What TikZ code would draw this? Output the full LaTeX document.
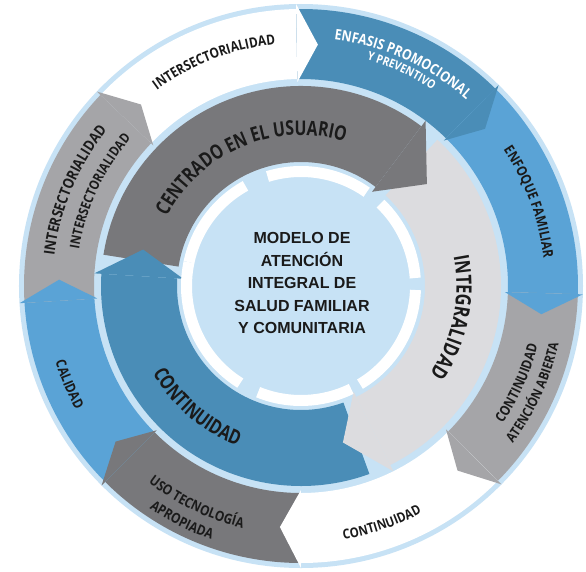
\documentclass[tikz,border=0pt]{standalone}
\usepackage{fontspec}
\setmainfont{Liberation Sans}
\newfontfamily\ringfont[FakeStretch=0.85]{Open Sans}
\newfontfamily\innerfont[FakeStretch=0.78]{Open Sans}
\usetikzlibrary{decorations.text}
\definecolor{bgblue}{HTML}{C7E2F5}
\definecolor{darkblue}{HTML}{4A8DB7}
\definecolor{midblue}{HTML}{5AA3D6}
\definecolor{outgray}{HTML}{A5A5A8}
\definecolor{darkgray}{HTML}{78787B}
\definecolor{lightgray}{HTML}{DCDCDF}
\definecolor{txt}{HTML}{1A1A1A}
% outer band: color, tail angle, base angle
\newcommand\outerbody[3]{\fill[#1] (#2:277) arc[start angle=#2, end angle=#3, radius=277] -- (#3:207) arc[start angle=#3, end angle=#2, radius=207] -- cycle;}
\newcommand\outerhead[2]{\fill[#1] (#2:282) -- ({#2-5}:242) -- (#2:204) -- cycle;}
% inner ring
\newcommand\innerbody[3]{\fill[#1] (#2:200) arc[start angle=#2, end angle=#3, radius=200] -- (#3:124) arc[start angle=#3, end angle=#2, radius=124] -- cycle;}
\newcommand\innerhead[3]{\fill[#1] (#2:207) -- (#3:162) -- (#2:118) -- cycle;}
% curved texts: center angle, baseline radius, size, colour, text
\newcommand\cwtext[5]{\path[decorate,decoration={text along path, text align=center, text color=#4, text={|\ringfont\bfseries\fontsize{#3}{#3}\selectfont|#5}}] ({#1+60}:#2) arc[start angle={#1+60}, end angle={#1-60}, radius=#2];}
\newcommand\ccwtext[5]{\path[decorate,decoration={text along path, text align=center, text color=#4, text={|\ringfont\bfseries\fontsize{#3}{#3}\selectfont|#5}}] ({#1-60}:#2) arc[start angle={#1-60}, end angle={#1+60}, radius=#2];}
\newcommand\cwinner[4]{\path[decorate,decoration={text along path, text align=center, text color=txt, text={|\innerfont\bfseries\fontsize{#3}{#3}\selectfont|#4}}] ({#1+60}:#2) arc[start angle={#1+60}, end angle={#1-60}, radius=#2];}
\newcommand\ccwinner[4]{\path[decorate,decoration={text along path, text align=center, text color=txt, text={|\innerfont\bfseries\fontsize{#3}{#3}\selectfont|#4}}] ({#1-60}:#2) arc[start angle={#1-60}, end angle={#1+60}, radius=#2];}
\begin{document}
\begin{tikzpicture}[x=1pt,y=1pt]
\useasboundingbox (-301,-285) rectangle (285,286);
\fill[white] (-301,-285) rectangle (285,286);
\fill[bgblue] (0,0) circle (282);
% outer arrows
\outerbody{white}{136.4}{91}
\outerbody{darkblue}{91}{45.5}
\outerbody{midblue}{45.5}{-1.7}
\outerbody{outgray}{-1.7}{-44.7}
\outerbody{white}{-44.7}{-90}
\outerbody{darkgray}{-90}{-135}
\outerbody{midblue}{-135}{-176.5}
\outerbody{outgray}{183.5}{136.4}
\outerhead{white}{91}
\outerhead{darkblue}{45.5}
\outerhead{midblue}{-1.7}
\outerhead{outgray}{-44.7}
\outerhead{white}{-90}
\outerhead{darkgray}{-135}
\outerhead{midblue}{-176.5}
\outerhead{outgray}{136.4}
% inner arrows
\innerbody{darkgray}{171}{53}
\innerbody{lightgray}{47}{-63.5}
\innerbody{darkblue}{-70}{-183.5}
\innerhead{darkgray}{53}{39}
\innerhead{lightgray}{-63.5}{-75}
\innerhead{darkblue}{176.5}{167}
% white ring around centre
\foreach \a/\b in {107/55, 46/4, -2/-59, -64/-112, -122/-192, 168/119}
  \draw[white, line width=11] (\a:114.5) arc[start angle=\a, end angle=\b, radius=114.5];
% labels
\cwtext{111.2}{243}{14}{txt}{INTERSECTORIALIDAD}
\cwtext{65.4}{249}{14.5}{white}{ENFASIS PROMOCIONAL}
\cwtext{65}{236}{12}{white}{Y PREVENTIVO}
\cwtext{20.2}{244}{14}{txt}{ENFOQUE FAMILIAR}
\cwtext{157.1}{248.6}{15}{txt}{INTERSECTORIALIDAD}
\cwtext{154.8}{225}{13.5}{txt}{INTERSECTORIALIDAD}
\cwinner{112.9}{150.8}{20.2}{CENTRADO EN EL USUARIO}
\cwinner{-11.6}{155.5}{21.2}{INTEGRALIDAD}
\ccwtext{-24.2}{244}{14}{txt}{CONTINUIDAD}
\ccwtext{-24.6}{264}{13.5}{txt}{ATENCIÓN ABIERTA}
\ccwtext{-71.2}{257}{13.5}{txt}{CONTINUIDAD}
\ccwtext{-115.7}{249}{14}{txt}{USO TECNOLOGÍA}
\ccwtext{-116.9}{269}{14}{txt}{APROPIADA}
\ccwtext{-157}{257}{14}{txt}{CALIDAD}
\ccwinner{-130.6}{172.2}{20.2}{CONTINUIDAD}
\node[align=center, text=txt, font=\bfseries\fontsize{16}{22.5}\selectfont] (title) at (1,3) {MODELO DE\\ATENCIÓN\\INTEGRAL DE\\SALUD FAMILIAR\\Y COMUNITARIA};
\end{tikzpicture}
\end{document}
